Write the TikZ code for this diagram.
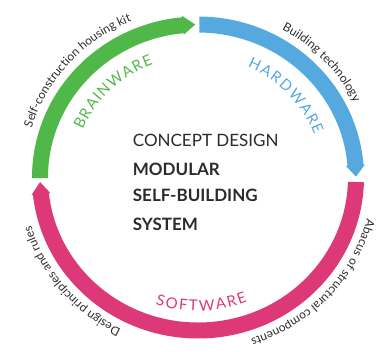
\documentclass[tikz,border=0pt]{standalone}
\usepackage{fontspec}
\setmainfont{Lato}
\usetikzlibrary{decorations.text}
\definecolor{grn}{HTML}{50B848}
\definecolor{blu}{HTML}{56A9DF}
\definecolor{pnk}{HTML}{DD3878}
\definecolor{txt}{HTML}{2B2B2B}
\newcommand\ringarrow[4]{%
  \fill[#1] (#2:166 and 161) arc[start angle=#2,end angle=#3,x radius=166,y radius=161]
    -- (#3:167.5 and 162.5) -- (#4:158 and 153) -- (#3:148.5 and 143.5) -- (#3:150 and 145)
    arc[start angle=#3,end angle=#2,x radius=150,y radius=145] -- cycle;}
\tikzset{
  ctext/.style={anchor=base west,inner sep=0pt,text=txt,font=\fontsize{17}{20}\selectfont},
  cbold/.style={ctext,font=\fontsize{17}{20}\selectfont\bfseries}
}
\begin{document}
\begin{tikzpicture}[x=1pt,y=1pt]
\useasboundingbox (-198,-173.5) rectangle (179,177.5);
% ring arrows
\ringarrow{grn}{180.2}{95.5}{91}
\ringarrow{blu}{89.5}{4.6}{0.3}
\ringarrow{pnk}{-1.7}{-173.8}{-178.3}
% centre text
\node[ctext] (l1) at (-65.3,30.8) {CONCEPT DESIGN};
\node[cbold] (l2) at (-65.3,2.5) {MODULAR};
\node[cbold] (l3) at (-65.3,-24.2) {SELF-BUILDING};
\node[cbold] (l4) at (-65.3,-52.5) {SYSTEM};
% inner labels (tracked)
\path[decorate,decoration={text along path,text align={fit to path},
  text={|\fontsize{15}{17}\selectfont\color{grn}|BRAINWARE}}]
  (157:125.3 and 121.5) arc[start angle=157,end angle=111,x radius=125.3,y radius=121.5];
\path[decorate,decoration={text along path,text align={fit to path},
  text={|\fontsize{15}{17}\selectfont\color{blu}|HARDWARE}}]
  (66.5:124.3 and 120.5) arc[start angle=66.5,end angle=20.8,x radius=124.3,y radius=120.5];
\path[decorate,decoration={text along path,text align={fit to path},
  text={|\fontsize{15}{17}\selectfont\color{pnk}|SOFTWARE}}]
  (-108:137.6 and 133.5) arc[start angle=-108,end angle=-69,x radius=137.6,y radius=133.5];
% outer labels
\path[decorate,decoration={text along path,text align=center,
  text={|\fontsize{12}{14}\selectfont\color{txt}|Self-construction housing kit}}]
  (183:174 and 169) arc[start angle=183,end angle=93,x radius=174,y radius=169];
\path[decorate,decoration={text along path,text align=center,
  text={|\fontsize{12}{14}\selectfont\color{txt}|Building technology}}]
  (88.4:174 and 169) arc[start angle=88.4,end angle=-1.6,x radius=174,y radius=169];
\path[decorate,decoration={text along path,text align=center,
  text={|\fontsize{12}{14}\selectfont\color{txt}|Abacus of structural components}}]
  (2:174 and 169) arc[start angle=2,end angle=-88,x radius=174,y radius=169];
\path[decorate,decoration={text along path,text align=center,
  text={|\fontsize{12}{14}\selectfont\color{txt}|Design principles and rules}}]
  (264.9:174 and 169) arc[start angle=264.9,end angle=174.9,x radius=174,y radius=169];
\end{tikzpicture}
\end{document}
